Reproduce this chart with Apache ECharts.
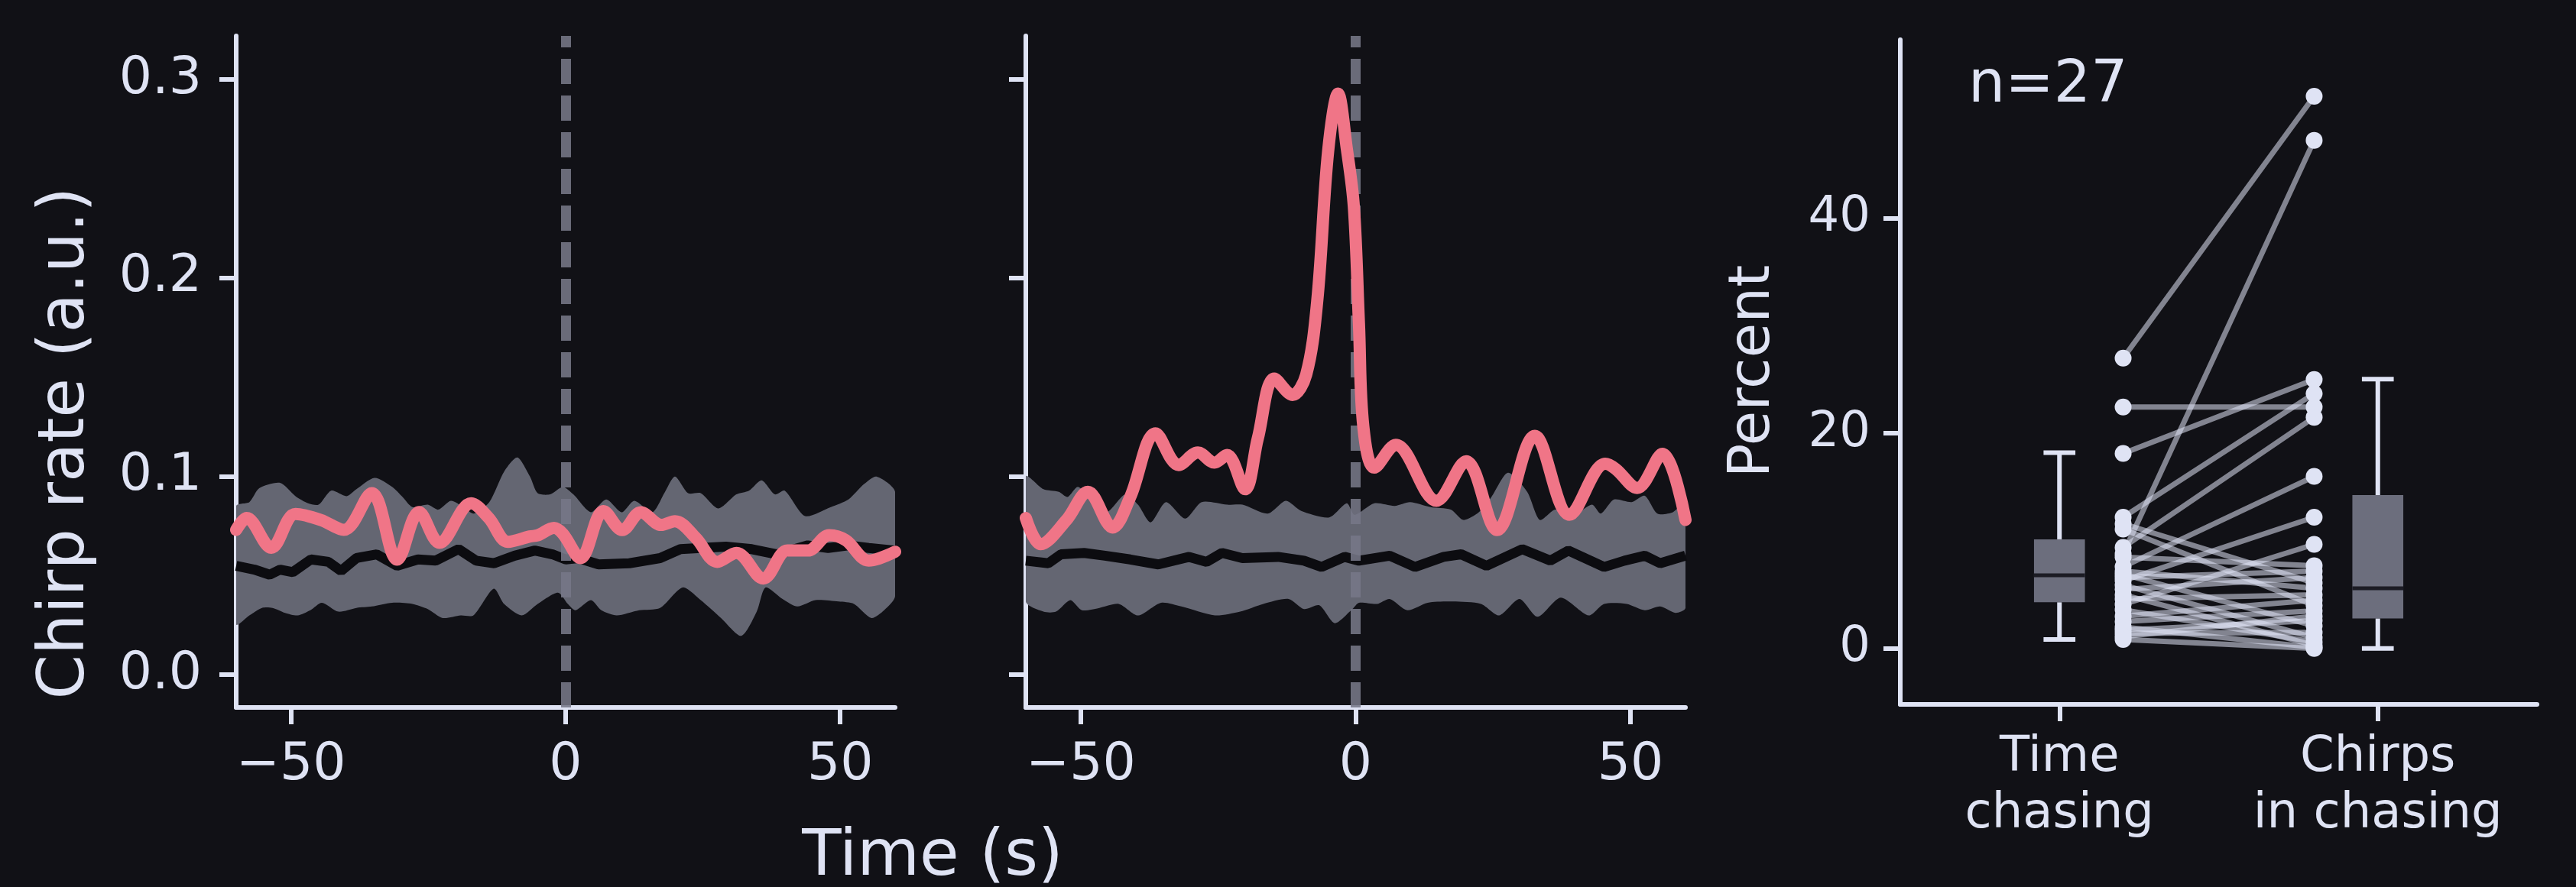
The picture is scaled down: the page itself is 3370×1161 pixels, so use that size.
<!DOCTYPE html>
<html><head><meta charset="utf-8">
<script src="https://cdn.jsdelivr.net/npm/echarts@6/dist/echarts.min.js"></script>
<style>html,body{margin:0;padding:0;background:#111116;}#c{width:3370px;height:1161px;}</style>
</head><body><div id="c"></div>
<script>
// ---------- data ----------
const timeTicks = [-50, 0, 50];
const rateTicks = [0, 0.1, 0.2, 0.3];
const percentTicks = [0, 20, 40];
const categories = ['Time\nchasing', 'Chirps\nin chasing'];

// Panel 1 (t [s], chirp rate)
const p1Red = [[-60,0.073],[-58.1,0.079],[-53.6,0.064],[-49.2,0.081],[-44.6,0.078],[-40.4,0.073],[-35.3,0.0915],[-30.7,0.058],[-26.7,0.082],[-23.0,0.0665],[-17.2,0.0864],[-14.0,0.079],[-10.5,0.067],[-6.5,0.0697],[-5.1,0.0703],[-2.1,0.074],[-0.5,0.071],[2.7,0.0588],[6.9,0.0825],[10.3,0.0729],[13.7,0.0819],[17.4,0.0755],[19.9,0.0774],[23.7,0.069],[27.6,0.0569],[31.1,0.0614],[36.0,0.0485],[40.4,0.0626],[44.1,0.0626],[48.0,0.0703],[51.0,0.0678],[55.2,0.0575],[60,0.062]];
const p1Upper = [[-60,0.085],[-57.6,0.087],[-55.8,0.094],[-52,0.0967],[-49.2,0.090],[-46.9,0.0864],[-45,0.0857],[-42.7,0.0928],[-39.9,0.090],[-38.1,0.0935],[-34.8,0.0992],[-31.6,0.0947],[-29.7,0.0896],[-27.9,0.0845],[-25.1,0.0857],[-23.2,0.0832],[-20.9,0.0877],[-18.6,0.0845],[-16.7,0.0812],[-13.9,0.087],[-11.2,0.1024],[-8.8,0.1095],[-6.5,0.0999],[-5.1,0.0915],[-2.8,0.0909],[-0.5,0.0947],[1.4,0.0909],[4.6,0.0819],[7.4,0.0883],[10.2,0.0819],[12.5,0.0877],[15.8,0.0819],[18.1,0.0922],[19.9,0.0999],[22.3,0.0915],[24.6,0.0915],[27.8,0.0838],[31.1,0.0909],[33.4,0.0928],[35.7,0.098],[38.1,0.0909],[39.9,0.0928],[43.6,0.080],[48.3,0.0845],[51.5,0.0883],[54.3,0.096],[56.6,0.0999],[60,0.0922]];
const p1Lower = [[-60,0.0254],[-57.6,0.0299],[-55.3,0.0337],[-53.4,0.0337],[-51.1,0.0312],[-48.8,0.0299],[-46.5,0.0325],[-44.4,0.0363],[-41.4,0.0318],[-38.1,0.0337],[-35.3,0.0344],[-31.6,0.0363],[-27.9,0.0357],[-25.1,0.0331],[-22.4,0.0286],[-19.1,0.0299],[-16.8,0.0299],[-13.1,0.0434],[-11.2,0.0357],[-8.0,0.0299],[-5.1,0.0357],[-1.4,0.0414],[0.4,0.0357],[1.8,0.0325],[4.6,0.0376],[6.5,0.0325],[9.3,0.0299],[13.4,0.0325],[17.2,0.0337],[21.3,0.044],[24.6,0.0376],[28.3,0.0286],[32.0,0.0196],[34.8,0.0318],[36.4,0.044],[39.5,0.0382],[42.2,0.0344],[45.5,0.0376],[49.7,0.0369],[52.5,0.0357],[55.7,0.0286],[58.0,0.0325],[60,0.0395]];
const p1Median = [[-60,0.0549],[-56.7,0.053],[-53.9,0.0504],[-52.0,0.053],[-49.7,0.0517],[-46.4,0.0581],[-43.2,0.0569],[-40.9,0.0523],[-38.1,0.0588],[-34.4,0.0607],[-30.7,0.0549],[-26.9,0.0581],[-23.7,0.0575],[-19.5,0.0633],[-16.3,0.0575],[-13.0,0.0562],[-9.3,0.06],[-5.6,0.0626],[-2.4,0.0607],[0,0.0581],[2.3,0.0588],[6.0,0.0556],[11.6,0.0562],[17.2,0.0588],[20.9,0.0633],[24.6,0.0639],[29.2,0.0646],[33.9,0.0633],[38.5,0.0607],[44.1,0.0652],[47.8,0.0639],[51.5,0.0652],[55.2,0.0639],[60,0.0626]];

// Panel 2
const p2Red = [[-60,0.079],[-57.3,0.0658],[-52.6,0.078],[-48.7,0.0922],[-44.2,0.0742],[-41.0,0.0896],[-36.4,0.1217],[-32.2,0.1057],[-28.7,0.112],[-25.7,0.1069],[-23.4,0.1108],[-20.1,0.0935],[-17.8,0.1191],[-14.8,0.1493],[-11.5,0.141],[-9.0,0.1512],[-7.0,0.188],[-5.0,0.264],[-3.2,0.2929],[-1.6,0.265],[-0.33,0.236],[0.6,0.177],[1.4,0.125],[3.4,0.1044],[7.3,0.1159],[14.7,0.0877],[20.1,0.1076],[25.7,0.0729],[32.6,0.1204],[38.9,0.0806],[45.4,0.1063],[47.3,0.1037],[51.2,0.0941],[55.8,0.1114],[60,0.078]];
const p2Upper = [[-60,0.0999],[-56.8,0.0935],[-54.0,0.0922],[-52.4,0.0896],[-50.5,0.0947],[-47.0,0.0857],[-45.2,0.0819],[-41.9,0.0909],[-39.6,0.0857],[-37.3,0.0768],[-34.5,0.087],[-31.0,0.0787],[-28.0,0.087],[-23.4,0.0857],[-20.6,0.0857],[-16.0,0.0812],[-12.7,0.0877],[-9.9,0.0826],[-4.8,0.0793],[-1.6,0.0864],[-0.2,0.0806],[3.4,0.0864],[7.1,0.0851],[9.9,0.087],[13.6,0.0845],[17.3,0.0832],[19.6,0.078],[22.4,0.0819],[24.7,0.0896],[27.7,0.1018],[31.2,0.0922],[33.5,0.078],[36.3,0.0832],[40.0,0.0812],[43.0,0.0857],[44.6,0.0812],[47.0,0.0883],[50.2,0.087],[52.6,0.0902],[54.9,0.0812],[57.7,0.0819],[60,0.087]];
const p2Lower = [[-60,0.0369],[-56.8,0.0318],[-54.5,0.0318],[-51.9,0.0376],[-49.8,0.0325],[-46.6,0.0337],[-43.1,0.0357],[-39.6,0.0299],[-35.4,0.0363],[-31.7,0.0344],[-25.6,0.0299],[-21.0,0.0318],[-16.8,0.0357],[-12.2,0.0382],[-9.4,0.0331],[-6.6,0.035],[-3.8,0.026],[-0.6,0.0331],[0.6,0.0363],[3.9,0.0357],[6.2,0.0382],[9.4,0.0325],[13.1,0.0363],[17.7,0.0369],[22.8,0.0357],[26.1,0.0299],[29.8,0.0382],[33.1,0.0292],[37.3,0.0389],[42.4,0.0299],[45.2,0.0357],[49.3,0.0357],[52.6,0.0325],[55.4,0.0344],[58.2,0.0312],[60,0.0337]];
const p2Median = [[-60,0.0575],[-55.9,0.0562],[-53.6,0.0607],[-49.4,0.0614],[-45.6,0.06],[-41.0,0.0581],[-35.9,0.0556],[-30.3,0.0594],[-27.1,0.0569],[-24.3,0.0614],[-20.6,0.0588],[-14.1,0.0594],[-9.4,0.0575],[-6.2,0.0543],[-2.0,0.0594],[0.6,0.0575],[6.2,0.06],[10.8,0.0543],[16.0,0.0594],[19.2,0.0607],[23.8,0.0549],[30.3,0.0633],[35.4,0.0575],[38.7,0.0626],[45.2,0.0543],[48.9,0.0575],[52.6,0.06],[55.4,0.0562],[60,0.06]];

// Panel 3 (percent), paired by fish
const timeChasing     = [27.0, 22.45, 18.14, 12.2, 11.6, 11.1, 9.4, 8.8, 8.5, 7.6, 7.2, 6.9, 6.6, 6.3, 5.9, 5.5, 5.0, 4.6, 4.1, 3.6, 3.0, 2.5, 2.0, 1.7, 1.4, 1.1, 0.84];
const chirpsInChasing = [51.35, 22.45, 25.0, 23.7, 6.1, 4.0, 21.5, 47.25, 7.7, 16.0, 5.6, 2.1, 7.2, 12.2, 1.0, 6.6, 0.3, 5.0, 9.68, 0.6, 4.5, 3.5, 0.1, 2.6, 1.5, 3.0, 0.0];
// box stats: [whisker low, Q1, median, Q3, whisker high]
const boxTimeChasing = [0.84, 4.3, 6.8, 10.15, 18.2];
const boxChirps      = [0.0, 2.8, 5.6, 14.26, 25.05];
const nLabel = 'n=27';

// ---------- style ----------
const FONT = 'DejaVu Sans';
const TXT = '#dfe3f4';
const BG = '#111116';
const BAND = '#646672';
const RED = '#f07587';
const MED = '#0c0c10';
const BOXC = '#6c6e7d';
const AXW = 6;
const fmtMinus = v => (v < 0 ? '\u2212' + Math.abs(v) : String(v));

function timeAxis(gi) {
  return {type:'value', gridIndex:gi, min:-60, max:60,
    axisLine:{show:true, onZero:false, lineStyle:{color:TXT, width:AXW}},
    axisTick:{show:true, customValues:timeTicks, length:22, lineStyle:{color:TXT, width:AXW}},
    axisLabel:{show:true, customValues:timeTicks, formatter:fmtMinus, color:TXT, fontSize:68, fontFamily:FONT, margin:42},
    splitLine:{show:false}};
}
function rateAxis(gi, showLabel) {
  return {type:'value', gridIndex:gi, min:-0.0165, max:0.322,
    axisLine:{show:true, onZero:false, lineStyle:{color:TXT, width:AXW}},
    axisTick:{show:true, customValues:rateTicks, length:22, lineStyle:{color:TXT, width:AXW}},
    axisLabel:{show:showLabel, customValues:rateTicks, formatter:v=>v.toFixed(1), color:TXT, fontSize:68, fontFamily:FONT, margin:45},
    splitLine:{show:false}};
}
function bandSeries(i, upper, lower) {
  return {type:'custom', xAxisIndex:i, yAxisIndex:i, clip:true, z:1, silent:true, data:[0],
    renderItem:(params, api) => {
      const pts = upper.map(p => api.coord(p)).concat(lower.slice().reverse().map(p => api.coord(p)));
      return {type:'polygon', shape:{points:pts, smooth:0.25}, style:{fill:BAND}};
    }};
}
function medianSeries(i, data) {
  return {type:'line', xAxisIndex:i, yAxisIndex:i, data:data, symbol:'none', z:2, silent:true,
    lineStyle:{color:MED, width:13},
    markLine:{silent:true, symbol:'none', label:{show:false}, z:3,
      lineStyle:{color:'rgba(118,120,135,0.88)', width:13, type:[33,15]},
      data:[[{coord:[0,-0.0165]},{coord:[0,0.322]}]]}};
}
function redSeries(i, data) {
  return {type:'line', xAxisIndex:i, yAxisIndex:i, data:data, symbol:'none', z:4, silent:true,
    smooth:0.35, lineStyle:{color:RED, width:16, cap:'round', join:'round'}};
}

const series = [
  bandSeries(0, p1Upper, p1Lower), medianSeries(0, p1Median), redSeries(0, p1Red),
  bandSeries(1, p2Upper, p2Lower), medianSeries(1, p2Median), redSeries(1, p2Red)
];
// paired lines
for (let k = 0; k < timeChasing.length; k++) {
  series.push({type:'line', xAxisIndex:2, yAxisIndex:2, silent:true, symbol:'none', z:2,
    data:[[0.2, timeChasing[k]], [0.8, chirpsInChasing[k]]],
    lineStyle:{color:'rgba(224,228,245,0.55)', width:7}});
}
series.push({type:'scatter', xAxisIndex:2, yAxisIndex:2, silent:true, z:3, symbolSize:22,
  data: timeChasing.map(v => [0.2, v]), itemStyle:{color:TXT, opacity:1}});
series.push({type:'scatter', xAxisIndex:2, yAxisIndex:2, silent:true, z:3, symbolSize:22,
  data: chirpsInChasing.map(v => [0.8, v]), itemStyle:{color:TXT, opacity:1}});
series.push({type:'custom', xAxisIndex:2, yAxisIndex:2, silent:true, z:2,
  data:[[0].concat(boxTimeChasing), [1].concat(boxChirps)],
  renderItem:(params, api) => {
    const x = api.value(0);
    const lo = api.value(1), q1 = api.value(2), md = api.value(3), q3 = api.value(4), hi = api.value(5);
    const hw = api.size([0.08, 0])[0];
    const cw = api.size([0.05, 0])[0];
    const c = api.coord([x, 0])[0];
    const y = v => api.coord([x, v])[1];
    const ln = (x1,y1,x2,y2,col,w) => ({type:'line', shape:{x1,y1,x2,y2}, style:{stroke:col, lineWidth:w}});
    return {type:'group', children:[
      ln(c, y(q1), c, y(lo), TXT, 6),
      ln(c, y(q3), c, y(hi), TXT, 6),
      ln(c-cw, y(lo), c+cw, y(lo), TXT, 6),
      ln(c-cw, y(hi), c+cw, y(hi), TXT, 6),
      {type:'rect', shape:{x:c-hw, y:y(q3), width:2*hw, height:y(q1)-y(q3)}, style:{fill:BOXC}},
      ln(c-hw, y(md), c+hw, y(md), '#1c1c24', 5)
    ]};
  }});

const chart = echarts.init(document.getElementById('c'), null, {renderer:'canvas'});
chart.setOption({
  backgroundColor: BG,
  animation: false,
  grid: [
    {left:309, top:47, width:862, height:879},
    {left:1342, top:47, width:863, height:879},
    {left:2486, top:52, width:833, height:870}
  ],
  xAxis: [timeAxis(0), timeAxis(1),
    {type:'value', gridIndex:2, min:-0.5, max:1.5,
      axisLine:{show:true, onZero:false, lineStyle:{color:TXT, width:AXW}},
      axisTick:{show:true, customValues:[0,1], length:22, lineStyle:{color:TXT, width:AXW}},
      axisLabel:{show:true, customValues:[0,1], formatter:v=>categories[Math.round(v)], color:TXT, fontSize:64, lineHeight:74, fontFamily:FONT, margin:33, align:'center'},
      splitLine:{show:false}}],
  yAxis: [rateAxis(0, true), rateAxis(1, false),
    {type:'value', gridIndex:2, min:-5.2, max:56.6,
      axisLine:{show:true, onZero:false, lineStyle:{color:TXT, width:AXW}},
      axisTick:{show:true, customValues:percentTicks, length:22, lineStyle:{color:TXT, width:AXW}},
      axisLabel:{show:true, customValues:percentTicks, color:TXT, fontSize:64, fontFamily:FONT, margin:39},
      splitLine:{show:false}}],
  graphic: [
    {type:'text', x:87, y:580, rotation:Math.PI/2, silent:true,
      style:{text:'Chirp rate (a.u.)', fill:TXT, font:'84px "DejaVu Sans"', align:'center', verticalAlign:'middle'}},
    {type:'text', x:1220, y:1123, silent:true,
      style:{text:'Time (s)', fill:TXT, font:'84px "DejaVu Sans"', align:'center', verticalAlign:'middle'}},
    {type:'text', x:2295, y:486, rotation:Math.PI/2, silent:true,
      style:{text:'Percent', fill:TXT, font:'74px "DejaVu Sans"', align:'center', verticalAlign:'middle'}},
    {type:'text', x:2575, y:113, silent:true,
      style:{text:nLabel, fill:TXT, font:'76px "DejaVu Sans"', align:'left', verticalAlign:'middle'}}
  ],
  series: series
});
</script>
</body></html>
